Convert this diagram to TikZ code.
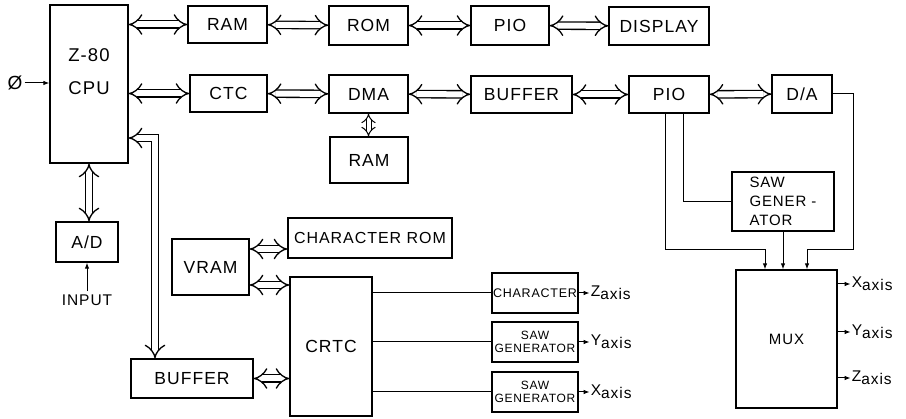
\documentclass[tikz,border=0pt]{standalone}
\usepackage{fontspec}
\setmainfont[LetterSpace=6]{Liberation Sans}
\usetikzlibrary{arrows.meta, positioning}

\newcommand{\axislabel}[1]{#1\raisebox{-3pt}{axis}}

\begin{document}
\begin{tikzpicture}[
        x = 1pt, y = -1pt,
        >= {Latex[length = 6pt, width = 4.5pt]},
        block/.style = {draw, line width = 1.3pt, inner sep = 0pt,
                        font = \fontsize{17.5}{20}\selectfont},
        bus/.style = {double distance = 6pt, line width = 1.3pt, {Implies}-{Implies}},
        shortbus/.style = {double distance = 4pt, line width = 1pt, {Implies}-{Implies}},
        wire/.style = {line width = 1pt},
        axislbl/.style = {font = \fontsize{15.5}{18}\selectfont, inner sep = 1pt}
    ]

      \useasboundingbox (0,0) rectangle (906,419);

      % processor side
      \node[block, minimum width = 78pt, minimum height = 158pt, align = center,
            font = \fontsize{18.5}{21}\selectfont] (cpu) at (89,84) {Z-80\\[12pt]CPU\\[4pt]};
      \node[block, minimum width = 62pt, minimum height = 40pt] (ad) at (87,242) {A/D};
      \node[font = \fontsize{19}{21}\selectfont, inner sep = 2pt] (phi) at (15,83) {Ø};
      \node[font = \fontsize{15.5}{18}\selectfont] (inp) at (87,300) {INPUT};

      % top row
      \node[block, minimum width = 79pt, minimum height = 37pt] (ram1) at (227.5,24.5) {RAM};
      \node[block, minimum width = 79pt, minimum height = 39pt] (rom) at (368.5,25.5) {ROM};
      \node[block, minimum width = 78pt, minimum height = 39pt] (pio1) at (510,25.5) {PIO};
      \node[block, minimum width = 100pt, minimum height = 38pt] (disp) at (659,26) {DISPLAY};

      % second row
      \node[block, minimum width = 77pt, minimum height = 37pt] (ctc) at (228.5,93.5) {CTC};
      \node[block, minimum width = 79pt, minimum height = 38pt] (dma) at (368.5,94) {DMA};
      \node[block, minimum width = 101pt, minimum height = 37pt] (buf1) at (521.5,94.5) {BUFFER};
      \node[block, minimum width = 80pt, minimum height = 37pt] (pio2) at (669,94.5) {PIO};
      \node[block, minimum width = 60pt, minimum height = 38pt] (da) at (802,94) {D/A};
      \node[block, minimum width = 78pt, minimum height = 46pt] (ram2) at (369,160) {RAM};

      % video part
      \node[block, minimum width = 77pt, minimum height = 56pt] (vram) at (210.5,267) {VRAM};
      \node[block, minimum width = 164pt, minimum height = 40pt,
            font = \fontsize{16}{19}\selectfont] (crom) at (370,238) {CHARACTER ROM};
      \node[block, minimum width = 82pt, minimum height = 139pt] (crtc) at (331,346.5) {CRTC};
      \node[block, minimum width = 122pt, minimum height = 39pt] (buf2) at (192,378.5) {BUFFER};
      \node[block, minimum width = 86pt, minimum height = 40pt,
            font = \fontsize{12.5}{15}\selectfont] (chr) at (535,293) {CHARACTER};
      \node[block, minimum width = 86pt, minimum height = 40pt, align = center,
            font = \fontsize{12}{13}\selectfont] (sawy) at (535,342) {SAW\\GENERATOR};
      \node[block, minimum width = 86pt, minimum height = 40pt, align = center,
            font = \fontsize{12}{13}\selectfont] (sawx) at (535,392) {SAW\\GENERATOR};

      % scope part
      \node[block, minimum width = 102pt, minimum height = 59pt, align = left,
            font = \fontsize{15}{19}\selectfont] (saw3) at (783,201.5) {SAW\\GENER -\\ATOR};
      \node[block, minimum width = 101pt, minimum height = 138pt,
            font = \fontsize{15}{18}\selectfont] (mux) at (786.5,339) {MUX};

      % buses
      \draw[bus] (ram1.west -| cpu.east) -- (ram1.west);
      \draw[bus] (ram1) -- (rom);
      \draw[bus] (rom) -- (pio1);
      \draw[bus] (pio1) -- (disp);
      \draw[bus] (ctc.west -| cpu.east) -- (ctc.west);
      \draw[bus] (ctc) -- (dma);
      \draw[bus] (dma) -- (buf1);
      \draw[bus] (buf1) -- (pio2);
      \draw[bus] (pio2) -- (da);
      \draw[shortbus] (dma.south) -- (dma.south |- ram2.north);
      \draw[bus] (cpu.south) -- (cpu.south |- ad.north);
      \coordinate (busbend) at (155,138);
      \draw[bus] (busbend -| cpu.east) -- (busbend) -- (busbend |- buf2.north);
      \draw[bus] ([yshift = 18pt]vram.east) -- ([yshift = 18pt]vram.east -| crom.west);
      \draw[bus] ([yshift = -18pt]vram.east) -- ([yshift = -18pt]vram.east -| crtc.west);
      \draw[bus] (buf2.east) -- (buf2.east -| crtc.west);

      % single lines
      \draw[wire, ->] (phi) -- (phi -| cpu.west);
      \draw[wire, ->] (inp) -- (ad);
      \draw[wire] (crtc.east |- chr) -- (chr);
      \draw[wire] (crtc.east |- sawy) -- (sawy);
      \draw[wire] (crtc.east |- sawx) -- (sawx);

      \coordinate (jA) at (765,250);
      \coordinate (jD) at (853,250);
      \draw[wire, ->] ([xshift = -4pt]pio2.south) |- (jA) -- (jA |- mux.north);
      \draw[wire] ([xshift = 14pt]pio2.south) |- (saw3.west);
      \draw[wire, ->] (saw3.south) -- (saw3.south |- mux.north);
      \draw[wire, ->] (da.east) -| (jD) -| ([xshift = 20.5pt]mux.north);

      % outputs
      \node[axislbl, right = 11pt of chr] (zchr) {\axislabel{Z}};
      \node[axislbl, right = 11pt of sawy] (ysaw) {\axislabel{Y}};
      \node[axislbl, right = 11pt of sawx] (xsaw) {\axislabel{X}};
      \draw[wire, ->] (chr) -- (zchr);
      \draw[wire, ->] (sawy) -- (ysaw);
      \draw[wire, ->] (sawx) -- (xsaw);

      \coordinate (mxo1) at ([yshift = 55pt]mux.east);
      \coordinate (mxo2) at ([yshift = 7pt]mux.east);
      \coordinate (mxo3) at ([yshift = -39pt]mux.east);
      \node[axislbl, right = 13pt of mxo1] (xmux) {\axislabel{X}};
      \node[axislbl, right = 13pt of mxo2] (ymux) {\axislabel{Y}};
      \node[axislbl, right = 13pt of mxo3] (zmux) {\axislabel{Z}};
      \draw[wire, ->] (mxo1) -- (xmux);
      \draw[wire, ->] (mxo2) -- (ymux);
      \draw[wire, ->] (mxo3) -- (zmux);

    \end{tikzpicture}
\end{document}
